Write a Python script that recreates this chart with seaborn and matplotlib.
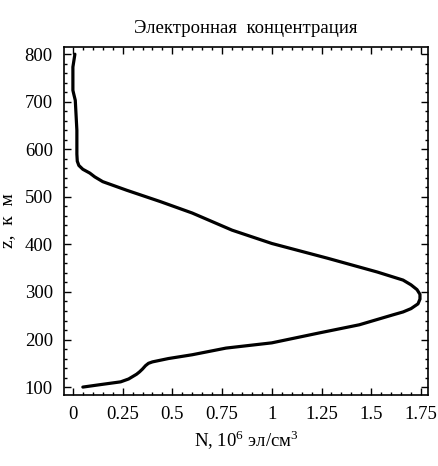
import numpy as np
import pandas as pd
import matplotlib
matplotlib.use('Agg')
import matplotlib.pyplot as plt
from matplotlib.ticker import MultipleLocator
import seaborn as sns

# профиль электронной концентрации
z_km = [100, 105, 111, 117, 122, 127, 132, 138, 145, 150, 153, 160, 168, 182,
        193, 214, 231, 252, 258, 265, 275, 285, 295, 305, 315, 325, 342, 371,
        402, 430, 466, 490, 514, 532, 542, 550, 558, 566, 575, 590, 640, 703,
        715, 724, 773, 800]
n_e = [0.05, 0.135, 0.24, 0.28, 0.30, 0.32, 0.335, 0.35, 0.365, 0.38, 0.40, 0.48,
       0.60, 0.77, 1.00, 1.24, 1.44, 1.61, 1.66, 1.70, 1.735, 1.745, 1.745,
       1.73, 1.70, 1.66, 1.53, 1.28, 1.00, 0.80, 0.60, 0.44, 0.27, 0.15, 0.11,
       0.085, 0.05, 0.03, 0.022, 0.02, 0.02, 0.012, 0.005, 0.0, 0.0, 0.01]
x_ticks = [0, 0.25, 0.5, 0.75, 1, 1.25, 1.5, 1.75]
x_tick_labels = ['0', '0.25', '0.5', '0.75', '1', '1.25', '1.5', '1.75']
y_ticks = [100, 200, 300, 400, 500, 600, 700, 800]

df = pd.DataFrame({'N': n_e, 'z': z_km})

sns.set_style('ticks')
plt.rcParams['font.family'] = ['Liberation Serif', 'DejaVu Serif']
plt.rcParams['mathtext.fontset'] = 'custom'
plt.rcParams['mathtext.rm'] = 'Liberation Serif'
plt.rcParams['text.color'] = 'black'
plt.rcParams['axes.labelcolor'] = 'black'
plt.rcParams['xtick.color'] = 'black'
plt.rcParams['ytick.color'] = 'black'

fig = plt.figure(figsize=(4.38, 4.66), dpi=100)
ax = fig.add_axes([0.146, 0.152, 0.831, 0.747])
sns.lineplot(data=df, x='N', y='z', sort=False, estimator=None,
             color='black', linewidth=2.3, ax=ax)

ax.set_xlim(-0.045, 1.785)
ax.set_ylim(83, 815)
ax.set_xticks(x_ticks)
ax.set_xticklabels(x_tick_labels)
ax.set_yticks(y_ticks)
ax.xaxis.set_minor_locator(MultipleLocator(0.05))
ax.yaxis.set_minor_locator(MultipleLocator(20))
ax.tick_params(which='both', direction='in', top=True, right=True,
               labelsize=13.5, width=1, color='black', pad=8)
ax.tick_params(which='major', length=5)
ax.tick_params(which='minor', length=2.5)
for s in ax.spines.values():
    s.set_linewidth(1.2)
    s.set_color('black')

ax.set_title('Электронная  концентрация', fontsize=13.5, pad=10)
ax.set_xlabel(r'N, 10$^6$ эл/см$^3$', fontsize=13.5, labelpad=4)
ax.set_ylabel('z,  к  м', fontsize=14, labelpad=6)

fig.savefig('out.png', dpi=100)
